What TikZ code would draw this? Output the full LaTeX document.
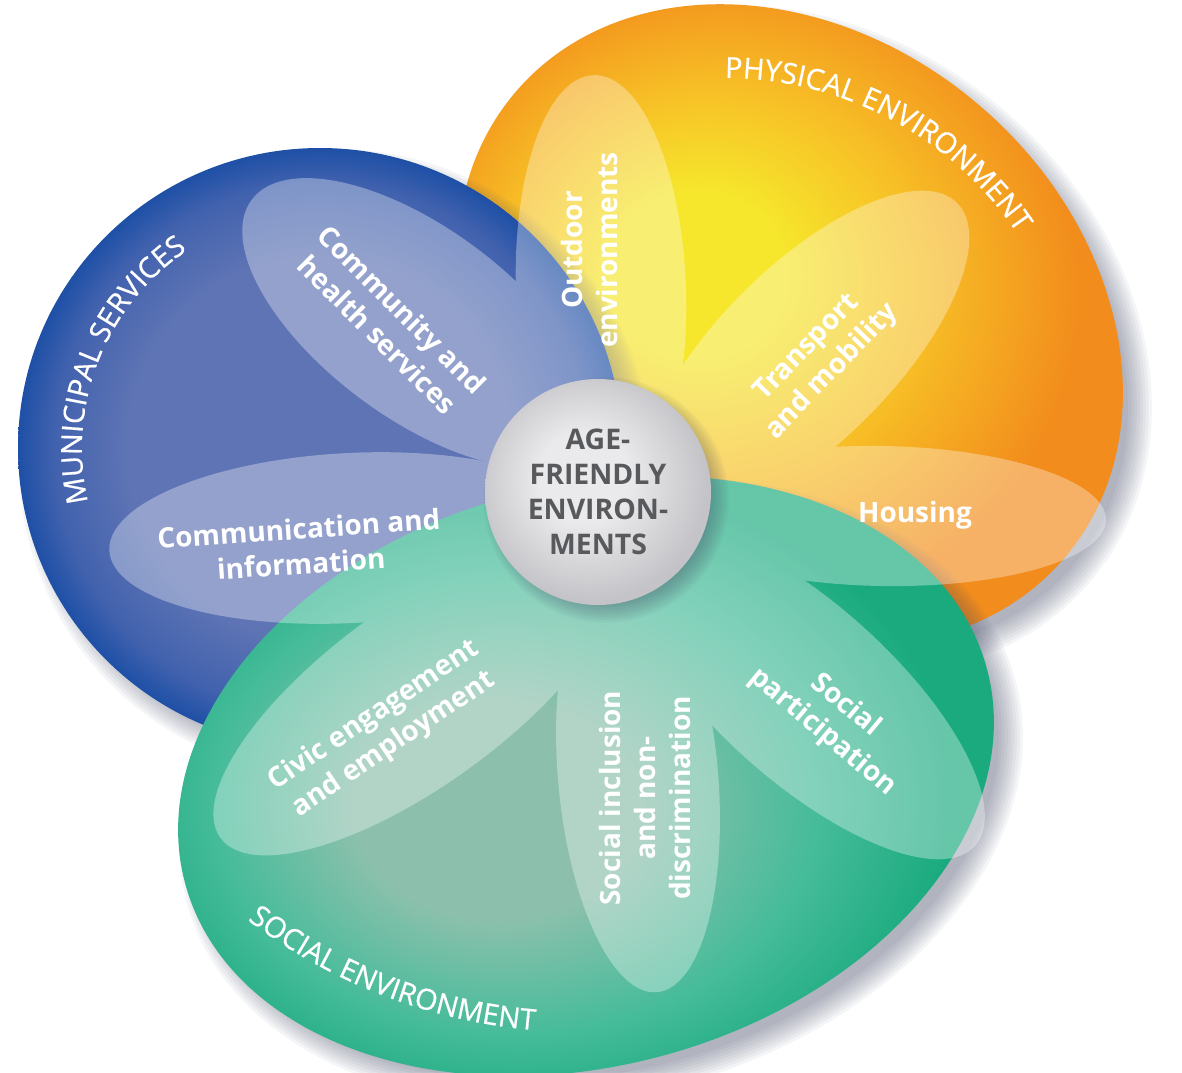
\documentclass[tikz,border=0pt]{standalone}
\usepackage{fontspec}
\setmainfont{Open Sans}
\newfontfamily\ringfam{Open Sans}[FakeBold=0.6]
\usetikzlibrary{decorations.text}

\definecolor{blueIn}{RGB}{94,116,180}
\definecolor{blueMid}{RGB}{66,98,174}
\definecolor{blueOut}{RGB}{30,80,166}
\definecolor{yellowIn}{RGB}{246,230,44}
\definecolor{orangeMid}{RGB}{247,190,38}
\definecolor{orangeOut}{RGB}{242,140,28}
\definecolor{greenIn}{RGB}{140,192,172}
\definecolor{greenMid}{RGB}{70,188,154}
\definecolor{greenOut}{RGB}{26,170,126}
\definecolor{hubIn}{RGB}{234,234,236}
\definecolor{hubOut}{RGB}{196,196,200}
\definecolor{hubText}{RGB}{88,89,92}
\definecolor{shadowc}{RGB}{70,76,104}

% the path's box is mapped to the inner 50bp square: its edge sits at 25bp
\pgfdeclareradialshading{bluedisc}{\pgfpoint{0bp}{0bp}}{color(0bp)=(blueIn); color(16bp)=(blueIn); color(22bp)=(blueMid); color(25bp)=(blueOut); color(50bp)=(blueOut)}
\pgfdeclareradialshading{orangedisc}{\pgfpoint{-7bp}{4bp}}{color(0bp)=(yellowIn); color(6bp)=(yellowIn); color(14bp)=(orangeMid); color(23bp)=(orangeOut); color(50bp)=(orangeOut)}
\pgfdeclareradialshading{greendisc}{\pgfpoint{-6bp}{-3bp}}{color(0bp)=(greenIn); color(8bp)=(greenIn); color(17bp)=(greenMid); color(24bp)=(greenOut); color(50bp)=(greenOut)}
\pgfdeclareradialshading{hubdisc}{\pgfpoint{-4bp}{4bp}}{color(0bp)=(hubIn); color(10bp)=(hubIn); color(26bp)=(hubOut); color(50bp)=(hubOut)}

\newcommand{\ringfont}{\ringfam\fontsize{14.5}{14.5}\selectfont}

\begin{document}
\begin{tikzpicture}[
    x=0.5pt, y=0.5pt,
    petaltext/.style={text=white, font=\bfseries\fontsize{14}{17.5}\selectfont, align=center, inner sep=0pt},
    hub/.style={circle, minimum size=113pt, inner sep=0pt, shading=hubdisc, text=hubText, font=\bfseries\fontsize{14.2}{17.5}\selectfont, align=center},
    glow/.style={shadowc, opacity=0.055},
    ringlabel/.style={decorate, decoration={text along path, text align=center, text color=white, text={|\ringfont|#1}}}
]

\fill[white] (0,0) rectangle (1182,-1072);
\useasboundingbox (0,0) rectangle (1182,-1072);

% Physical environment
\foreach \k in {0,...,8}
    \fill[glow, rotate around={-40:(805,-340)}] (805,-340) ellipse [x radius=350+3*\k, y radius=280+3*\k];
\shade[shading=orangedisc, rotate around={-40:(790,-325)}] (790,-325) ellipse [x radius=360, y radius=290];

% Municipal services
\foreach \k in {0,...,8}
    \fill[glow] (335,-463) ellipse [x radius=292+3*\k, y radius=290+3*\k];
\shade[shading=bluedisc] (320,-448) ellipse [x radius=302, y radius=300];

% Social environment
\foreach \k in {0,...,8}
    \fill[glow, rotate around={15:(601,-791)}] (601,-791) ellipse [x radius=405+3*\k, y radius=280+3*\k];
\shade[shading=greendisc, rotate around={15:(586,-776)}] (586,-776) ellipse [x radius=415, y radius=290];

% Petals
\begin{scope}[transparency group, opacity=0.33]
    \foreach \px/\py/\pa/\pb/\pt in {418/323/207/95/143.5, 601/290/215/85/92, 805/355/215/88/45, 882/516/224/70/-1,
                                     804/692/230/88/-42, 638/776/217/80/-85, 417/695/243/90/36, 350/538/241/85/3}
        \fill[white, rotate around={\pt:(\px,-\py)}] (\px,-\py) ellipse [x radius=\pa, y radius=\pb];
\end{scope}

% Hub
\foreach \k in {0,...,7}
    \fill[glow] (606,-500) circle [radius=105+2.5*\k];
\node[hub] (hub) at (598,-492) {AGE-\\FRIENDLY\\ENVIRON-\\MENTS};

% Petal labels
\node[petaltext, rotate=-45] (community) at (390,-322) {Community and\\health services};
\node[petaltext, rotate=4] (communication) at (300,-546) {Communication and\\information};
\node[petaltext, rotate=90] (outdoor) at (589,-250) {Outdoor\\environments};
\node[petaltext, rotate=46] (transport) at (820,-360) {Transport\\and mobility};
\node[petaltext] (housing) at (915,-515) {Housing};
\node[petaltext, rotate=-40] (participation) at (834,-719) {Social\\participation};
\node[petaltext, rotate=90] (inclusion) at (645,-798) {Social inclusion\\and non-\\discrimination};
\node[petaltext, rotate=34] (civic) at (384,-730) {Civic engagement\\and employment};

% Ring labels
\path[ringlabel={MUNICIPAL SERVICES}] ([shift={(201:238)}]320,-448) arc [start angle=201, end angle=116, radius=238];
\path[ringlabel={PHYSICAL ENVIRONMENT}] ([shift={(100:352)}]725,-430) arc [start angle=100, end angle=24, radius=352];
\path[ringlabel={SOCIAL ENVIRONMENT}] ([shift={(228:549)}]580,-483) arc [start angle=228, end angle=270, radius=549];

\end{tikzpicture}
\end{document}
